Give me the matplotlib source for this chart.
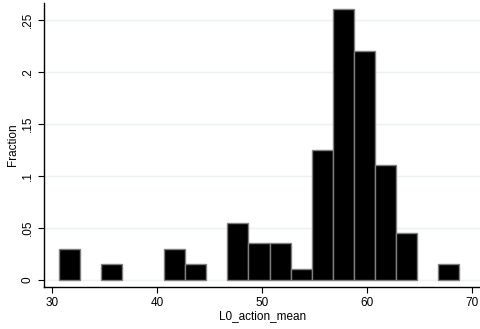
import numpy as np
from matplotlib import pyplot as plt

plt.rcParams['font.family'] = ['Liberation Sans', 'DejaVu Sans']

# histogram bins (width 2, starting at 30.7) and their fractions
bin_start = 30.7
bin_width = 2.0
fractions = [0.03, 0.0, 0.015, 0.0, 0.0, 0.03, 0.015, 0.0, 0.055, 0.035,
             0.035, 0.01, 0.125, 0.26, 0.22, 0.11, 0.045, 0.0, 0.015]
xticks = [30, 40, 50, 60, 70]
yticks = [0, 0.05, 0.1, 0.15, 0.2, 0.25]
ytick_labels = ['0', '.05', '.1', '.15', '.2', '.25']

edges = bin_start + bin_width * np.arange(len(fractions))

fig = plt.figure(figsize=(4.81, 3.29), dpi=100)
ax = fig.add_axes([0.092, 0.129, 0.906, 0.862])

# light grid lines behind bars
for y in yticks:
    ax.axhline(y, color='#eaf2f3', lw=1.0, zorder=0)

mask = np.array(fractions) > 0
ax.bar(edges[mask], np.array(fractions)[mask], width=bin_width, align='edge',
       color='black', edgecolor='#7f7f7f', linewidth=1.0, zorder=2)

ax.set_xlim(29.27, 70.73)
ax.set_ylim(-0.0064, 0.266)
ax.set_xticks(xticks)
ax.set_yticks(yticks)
ax.set_yticklabels(ytick_labels, rotation=90, va='center')
ax.tick_params(labelsize=8.5, length=4, width=0.8, color='black')
for s in ['top', 'right']:
    ax.spines[s].set_visible(False)
for s in ['left', 'bottom']:
    ax.spines[s].set_linewidth(1.0)

ax.set_xlabel('L0_action_mean', fontsize=8.5, labelpad=1)
ax.set_ylabel('Fraction', fontsize=8.5, labelpad=2)

fig.savefig('out.png', dpi=100)
